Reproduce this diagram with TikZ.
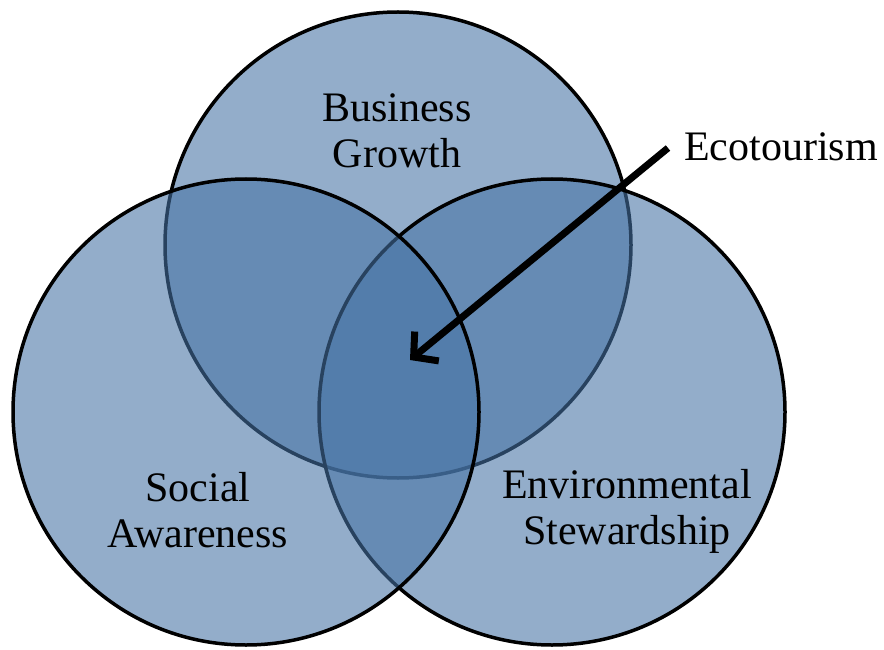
\documentclass[tikz,border=0pt]{standalone}
\usepackage{fontspec}
\setmainfont{Liberation Serif}
\usetikzlibrary{arrows.meta}
\definecolor{vennblue}{RGB}{70,115,165}
\tikzset{
  venn/.style={draw=black, line width=3.5pt, fill=vennblue, fill opacity=0.58, draw opacity=1},
  lbl/.style={font=\fontsize{42}{46}\selectfont, align=center, text=black, inner sep=0pt},
  pointer/.style={draw=black, line width=7pt, -{Straight Barb[length=17pt,width=38pt,line width=7pt]}}
}
\begin{document}
\begin{tikzpicture}[x=1pt,y=-1pt]
\useasboundingbox (0,0) rectangle (884,650);
\fill[white] (0,0) rectangle (884,650);
\node[venn, circle, minimum size=466pt, inner sep=0pt] (top) at (398,245) {};
\node[venn, circle, minimum size=466pt, inner sep=0pt] (right) at (552,412) {};
\node[venn, circle, minimum size=466pt, inner sep=0pt] (left) at (246,412) {};
\node[lbl] (bg) at (397,131) {Business\\Growth};
\node[lbl] (sa) at (198,510) {Social\\Awareness};
\node[lbl] (es) at (627,511) {Environmental\\Stewardship};
\node[lbl, anchor=west] (eco) at (684,147) {Ecotourism};
\coordinate (tail) at (668,148);
\coordinate (tip) at (410,360);
\draw[pointer] (tail) -- (tip);
\end{tikzpicture}
\end{document}
